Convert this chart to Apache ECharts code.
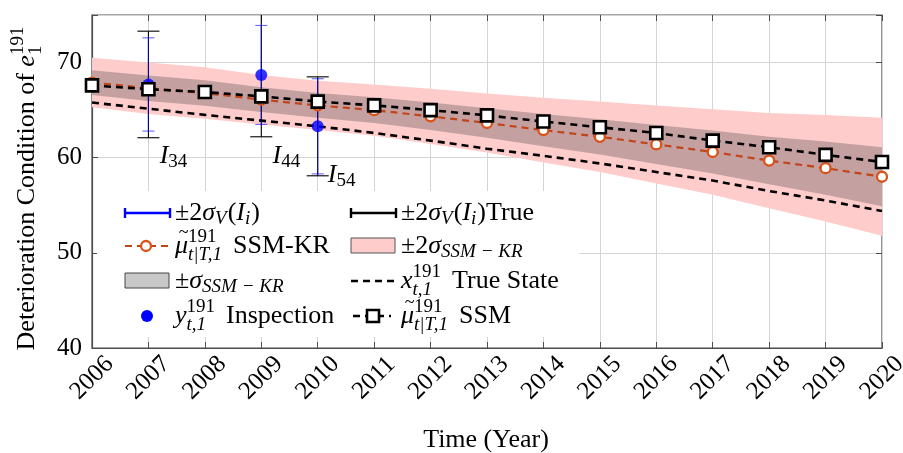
<!DOCTYPE html>
<html><head><meta charset="utf-8">
<script src="https://cdn.jsdelivr.net/npm/echarts@6/dist/echarts.min.js"></script>
<style>html,body{margin:0;padding:0;background:#fff}#c{width:903px;height:453px}</style>
</head><body><div id="c"></div>
<script>
// ---------------- data ----------------
const years      = [2006, 2007, 2008, 2009, 2010, 2011, 2012, 2013, 2014, 2015, 2016, 2017, 2018, 2019, 2020];
const ssmMean    = [67.6, 67.2, 66.9, 66.45, 65.9, 65.5, 65.0, 64.45, 63.8, 63.2, 62.6, 61.8, 61.1, 60.3, 59.55];
const krMean     = [67.9, 67.3, 66.8, 66.1, 65.5, 65.0, 64.35, 63.65, 62.9, 62.2, 61.4, 60.6, 59.7, 58.9, 58.0];
const sigmaKR    = [1.3, 1.35, 1.35, 1.3, 1.3, 1.35, 1.45, 1.55, 1.7, 1.85, 2.05, 2.25, 2.5, 2.8, 3.1];
const trueState  = [65.8, 65.15, 64.5, 63.9, 63.3, 62.6, 61.8, 60.95, 60.2, 59.4, 58.5, 57.6, 56.5, 55.5, 54.4];
const inspYears  = [2007, 2009, 2010];
const inspValues = [67.7, 68.7, 63.3];
const twoSigmaV     = [4.9, 5.2, 5.0];
const twoSigmaVTrue = [5.6, 6.5, 5.2];
const inspLabels    = ['34', '44', '54'];
const inspLabelPos  = [[2007.2, 60.2], [2009.2, 60.2], [2010.18, 58.2]];
const yTicks = [40, 50, 60, 70];

// ---------------- helpers ----------------
const FF = 'Liberation Serif';
const BASE = 26, SM = 19;
const mctx = document.createElement('canvas').getContext('2d');
function tw(t, size, it) { mctx.font = (it ? 'italic ' : '') + size + 'px "' + FF + '"'; return mctx.measureText(t).width; }
function T(t, x, y, size, it, align) {
  return {type: 'text', x: x, y: y, z: 100,
    style: {text: t, fontSize: size, fontFamily: FF, fontStyle: it ? 'italic' : 'normal', fill: '#000',
            verticalAlign: 'middle', align: align || 'left'}};
}
function mathLine(tokens, x, y) {
  const out = []; let cx = x;
  for (const k of tokens) {
    if (k.gap) { cx += k.gap; continue; }
    if (k.t !== undefined) {
      const s = k.size || BASE, w = tw(k.t, s, k.it);
      out.push(T(k.t, cx, y, s, k.it));
      if (k.tilde) out.push(T('~', cx + w / 2 + 2, y - 13, 18, false, 'center'));
      cx += w; continue;
    }
    let ww = 0;
    const both = k.sup !== undefined && k.sub !== undefined;
    if (k.sup !== undefined) { out.push(T(k.sup, cx, y - 9, SM, k.supIt)); ww = Math.max(ww, tw(k.sup, SM, k.supIt)); }
    if (k.sub !== undefined) { out.push(T(k.sub, cx, y + (both ? 9 : 6), SM, k.subIt)); ww = Math.max(ww, tw(k.sub, SM, k.subIt)); }
    cx += ww + 1;
  }
  return {els: out, width: cx - x};
}

const PINK = 'rgb(255,204,204)';
const GRAYBAND = 'rgba(60,60,60,0.3)';
const ORANGE = '#D95319';
const ORANGE_LINE = '#C2451A';
const AXIS = '#4d4d4d';

const bandPink = years.map((y, i) => [y, krMean[i] - 2 * sigmaKR[i], krMean[i] + 2 * sigmaKR[i]]);
const bandGray = years.map((y, i) => [y, krMean[i] - sigmaKR[i], krMean[i] + sigmaKR[i]]);

function bandRender(fill) {
  return function (params, api) {
    if (params.dataIndex !== 0) return;
    const n = years.length, up = [], lo = [];
    for (let j = 0; j < n; j++) {
      up.push(api.coord([api.value(0, j), api.value(2, j)]));
      lo.push(api.coord([api.value(0, j), api.value(1, j)]));
    }
    return {type: 'polygon', shape: {points: up.concat(lo.reverse())}, style: {fill: fill}};
  };
}
function errRender(color, capHalf, width) {
  return function (params, api) {
    const x = api.value(0), c = api.value(1), e = api.value(2);
    const a = api.coord([x, c + e]), b = api.coord([x, c - e]);
    const st = {stroke: color, lineWidth: width};
    return {type: 'group', children: [
      {type: 'line', shape: {x1: a[0], y1: a[1], x2: b[0], y2: b[1]}, style: st},
      {type: 'line', shape: {x1: a[0] - capHalf, y1: a[1], x2: a[0] + capHalf, y2: a[1]}, style: st},
      {type: 'line', shape: {x1: b[0] - capHalf, y1: b[1], x2: b[0] + capHalf, y2: b[1]}, style: st}
    ]};
  };
}

const chart = echarts.init(document.getElementById('c'));
const axisCommon = {type: 'value', min: 2006, max: 2020, interval: 1};
chart.setOption({
  animation: false,
  grid: {left: 92, right: 21, top: 15, bottom: 105, show: true, borderColor: AXIS, borderWidth: 1.2,
         containLabel: false, outerBoundsMode: 'none'},
  xAxis: [
    Object.assign({}, axisCommon, {
      position: 'bottom',
      axisLine: {lineStyle: {color: AXIS, width: 1.2}},
      axisTick: {inside: true, length: 6, lineStyle: {color: AXIS}},
      axisLabel: {rotate: 45, formatter: v => String(v), fontFamily: FF, fontSize: 25, color: '#000',
                  margin: 30, align: 'center', verticalAlign: 'middle'},
      splitLine: {show: true, lineStyle: {color: '#d4d4d4', width: 1}}
    }),
    Object.assign({}, axisCommon, {
      position: 'top',
      axisLine: {show: false},
      axisTick: {inside: true, length: 6, lineStyle: {color: AXIS}},
      axisLabel: {show: false}, splitLine: {show: false}
    })
  ],
  yAxis: [
    {type: 'value', min: 40, max: 75, interval: 10, position: 'left',
     axisLine: {show: true, lineStyle: {color: AXIS, width: 1.2}},
     axisTick: {show: true, inside: true, length: 6, lineStyle: {color: AXIS}},
     axisLabel: {formatter: v => (yTicks.indexOf(v) >= 0 ? String(v) : ''), fontFamily: FF, fontSize: 25, color: '#000', margin: 10},
     splitLine: {show: true, lineStyle: {color: '#d4d4d4', width: 1}}},
    {type: 'value', min: 40, max: 75, interval: 10, position: 'right',
     axisLine: {show: false},
     axisTick: {show: true, inside: true, length: 6, lineStyle: {color: AXIS}},
     axisLabel: {show: false}, splitLine: {show: false}}
  ],
  series: [
    {type: 'custom', name: 'pink', data: bandPink, encode: {x: 0, y: [1, 2]}, renderItem: bandRender(PINK), z: 1, silent: true},
    {type: 'custom', name: 'gray', data: bandGray, encode: {x: 0, y: [1, 2]}, renderItem: bandRender(GRAYBAND), z: 1, silent: true},
    {type: 'line', name: 'true', data: years.map((y, i) => [y, trueState[i]]), symbol: 'none',
     lineStyle: {color: '#000', width: 2.6, type: [7, 5]}, z: 3},
    {type: 'custom', name: 'errTrue', data: inspYears.map((y, i) => [y, inspValues[i], twoSigmaVTrue[i]]),
     encode: {x: 0, y: 1}, renderItem: errRender('#000', 11, 1.1), clip: true, z: 4},
    {type: 'custom', name: 'err', data: inspYears.map((y, i) => [y, inspValues[i], twoSigmaV[i]]),
     encode: {x: 0, y: 1}, renderItem: errRender('rgba(0,0,255,0.6)', 6, 1.1), clip: true, z: 4},
    {type: 'scatter', name: 'insp', data: inspYears.map((y, i) => [y, inspValues[i]]), symbol: 'circle', symbolSize: 12,
     itemStyle: {color: '#0000ff'}, z: 5},
    {type: 'line', name: 'kr', data: years.map((y, i) => [y, krMean[i]]), symbol: 'circle', symbolSize: 10, showAllSymbol: true,
     lineStyle: {color: ORANGE_LINE, width: 2.2, type: [7, 5]}, itemStyle: {color: '#fff', borderColor: ORANGE, borderWidth: 2.3}, z: 6},
    {type: 'line', name: 'ssm', data: years.map((y, i) => [y, ssmMean[i]]), symbol: 'rect', symbolSize: 12, showAllSymbol: true,
     lineStyle: {color: '#000', width: 2.6, type: [7, 5]}, itemStyle: {color: '#fff', borderColor: '#000', borderWidth: 2.6}, z: 7}
  ]
});

// ---------------- text / legend graphics ----------------
const G = [];
const yTok = [{t: 'Deterioration Condition of '}, {t: 'e', it: true}, {sup: '191', sub: '1'}];
const yW = mathLine(yTok, 0, 0).width;
G.push({type: 'group', x: 27, y: 188, rotation: Math.PI / 2, children: mathLine(yTok, -yW / 2, 0).els});
G.push(T('Time (Year)', 486, 440, BASE, false, 'center'));

inspLabels.forEach((s, i) => {
  const p = chart.convertToPixel({xAxisIndex: 0, yAxisIndex: 0}, inspLabelPos[i]);
  mathLine([{t: 'I', it: true}, {sub: s}], p[0], p[1]).els.forEach(e => G.push(e));
});

G.push({type: 'rect', z: 90, shape: {x: 97, y: 191, width: 482, height: 146}, style: {fill: '#fff'}});
const C1 = 125, C2 = 351, TX1 = 175, TX2 = 401;
const R = [213, 246, 281, 316];
function errIcon(x0, x1, y, color) {
  const st = {stroke: color, lineWidth: 2.4};
  return [
    {type: 'line', z: 100, shape: {x1: x0, y1: y, x2: x1, y2: y}, style: st},
    {type: 'line', z: 100, shape: {x1: x0, y1: y - 5, x2: x0, y2: y + 5}, style: st},
    {type: 'line', z: 100, shape: {x1: x1, y1: y - 5, x2: x1, y2: y + 5}, style: st}
  ];
}
errIcon(C1, C1 + 45, R[0], '#0000ff').forEach(e => G.push(e));
errIcon(C2, C2 + 45, R[0], '#000').forEach(e => G.push(e));
G.push({type: 'line', z: 100, shape: {x1: C1, y1: R[1], x2: C1 + 43, y2: R[1]}, style: {stroke: ORANGE_LINE, lineWidth: 2.2, lineDash: [7, 5]}});
G.push({type: 'circle', z: 101, shape: {cx: C1 + 21, cy: R[1], r: 5}, style: {fill: '#fff', stroke: ORANGE, lineWidth: 2.3}});
G.push({type: 'rect', z: 100, shape: {x: C2, y: R[1] - 8, width: 44, height: 15}, style: {fill: PINK, stroke: '#555', lineWidth: 1}});
G.push({type: 'rect', z: 100, shape: {x: C1, y: R[2] - 8, width: 44, height: 15}, style: {fill: 'rgb(200,200,200)', stroke: '#444', lineWidth: 1}});
G.push({type: 'line', z: 100, shape: {x1: C2, y1: R[2], x2: C2 + 44, y2: R[2]}, style: {stroke: '#000', lineWidth: 2.6, lineDash: [7, 5]}});
G.push({type: 'circle', z: 100, shape: {cx: C1 + 22, cy: R[3], r: 6}, style: {fill: '#0000ff'}});
G.push({type: 'line', z: 100, shape: {x1: C2 + 2, y1: R[3], x2: C2 + 40, y2: R[3]}, style: {stroke: '#000', lineWidth: 2.6, lineDash: [7, 5]}});
G.push({type: 'rect', z: 101, shape: {x: C2 + 16, y: R[3] - 6, width: 12, height: 12}, style: {fill: '#fff', stroke: '#000', lineWidth: 2.6}});

const SSMKR = 'SSM \u2212 KR';
const legendTexts = [
  [[{t: '\u00b12'}, {t: '\u03c3', it: true}, {sub: 'V', subIt: true}, {t: '('}, {t: 'I', it: true}, {sub: 'i', subIt: true}, {t: ')'}], TX1, R[0]],
  [[{t: '\u00b12'}, {t: '\u03c3', it: true}, {sub: 'V', subIt: true}, {t: '('}, {t: 'I', it: true}, {sub: 'i', subIt: true}, {t: ')True'}], TX2, R[0]],
  [[{t: '\u03bc', it: true, tilde: true}, {sup: '191', sub: 't|T,1', subIt: true}, {gap: 10}, {t: 'SSM-KR'}], TX1, R[1]],
  [[{t: '\u00b12'}, {t: '\u03c3', it: true}, {sub: SSMKR, subIt: true}], TX2, R[1]],
  [[{t: '\u00b1'}, {t: '\u03c3', it: true}, {sub: SSMKR, subIt: true}], TX1, R[2]],
  [[{t: 'x', it: true}, {sup: '191', sub: 't,1', subIt: true}, {gap: 10}, {t: 'True State'}], TX2, R[2]],
  [[{t: 'y', it: true}, {sup: '191', sub: 't,1', subIt: true}, {gap: 10}, {t: 'Inspection'}], TX1, R[3]],
  [[{t: '\u03bc', it: true, tilde: true}, {sup: '191', sub: 't|T,1', subIt: true}, {gap: 10}, {t: 'SSM'}], TX2, R[3]]
];
legendTexts.forEach(([tok, x, y]) => mathLine(tok, x, y).els.forEach(e => G.push(e)));

chart.setOption({graphic: {elements: G}});
</script>
</body></html>
